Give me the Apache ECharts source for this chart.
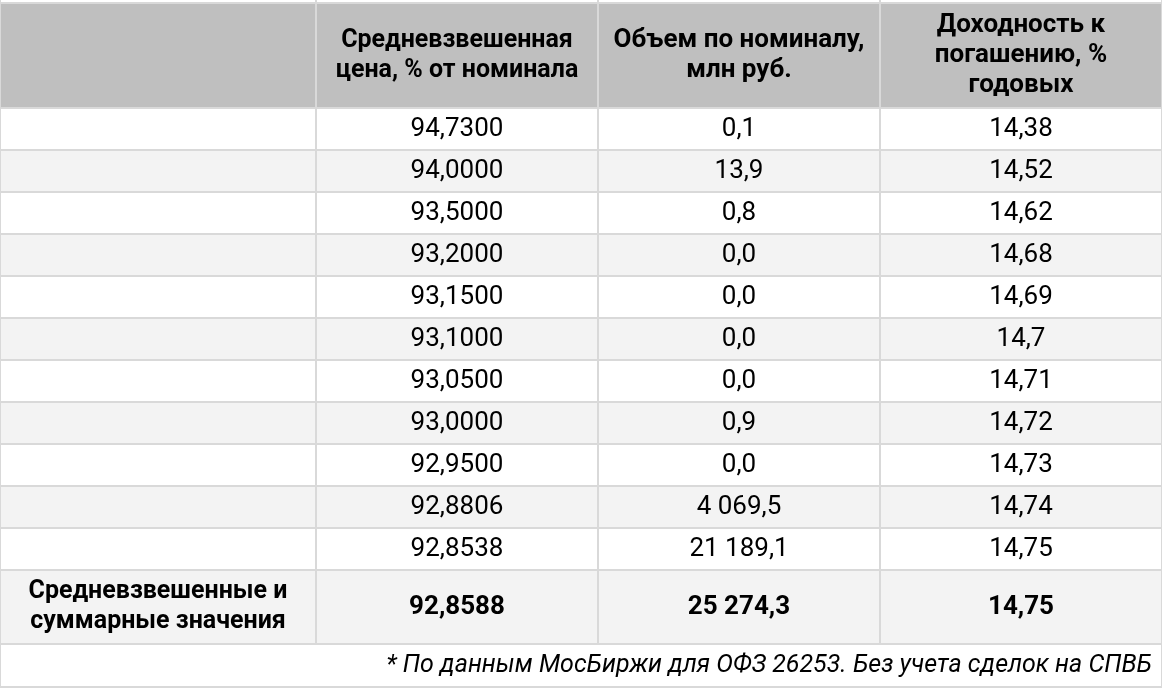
<!DOCTYPE html>
<html lang="ru">
<head>
<meta charset="UTF-8">
<title>ОФЗ 26253</title>
<style>html,body{margin:0;padding:0;background:#fff}</style>
</head>
<body>
<div id="main" style="width:1162px;height:688px;"></div>
<script src="https://cdn.jsdelivr.net/npm/echarts@6/dist/echarts.min.js"></script>
<script>
const headers = ['', 'Средневзвешенная\nцена, % от номинала', 'Объем по номиналу,\nмлн руб.', 'Доходность к\nпогашению, %\nгодовых']
const prices = ['94,7300', '94,0000', '93,5000', '93,2000', '93,1500', '93,1000', '93,0500', '93,0000', '92,9500', '92,8806', '92,8538']
const volumes = ['0,1', '13,9', '0,8', '0,0', '0,0', '0,0', '0,0', '0,9', '0,0', '4 069,5', '21 189,1']
const yields = ['14,38', '14,52', '14,62', '14,68', '14,69', '14,7', '14,71', '14,72', '14,73', '14,74', '14,75']
const totals = ['Средневзвешенные и\nсуммарные значения', '92,8588', '25 274,3', '14,75']
const note = '* По данным МосБиржи для ОФЗ 26253. Без учета сделок на СПВБ'

const chart = echarts.init(document.getElementById('main'))
const colX = [0, 316, 598, 880, 1162]
const font = 'Roboto, sans-serif'
const els = []

function cell(x0, x1, y0, y1, fill, text, bold, size) {
  els.push({ type: 'rect', shape: { x: x0, y: y0, width: x1 - x0, height: y1 - y0 },
    style: { fill: fill, stroke: '#d9d9d9', lineWidth: 2 } })
  if (text) els.push({ type: 'text', x: (x0 + x1) / 2, y: (y0 + y1) / 2,
    style: { text: text, fill: '#000', font: (bold ? 'bold ' : '') + (size || 26) + 'px ' + font,
      align: 'center', verticalAlign: 'middle', lineHeight: 30 } })
}

for (let c = 0; c < 4; c++) cell(colX[c], colX[c + 1], -10, 3, '#fff')
for (let c = 0; c < 4; c++) cell(colX[c], colX[c + 1], 3, 108, '#bfbfbf', headers[c], true, c === 1 ? 25 : 26)
prices.forEach((p, i) => {
  const y0 = 108 + i * 42, fill = i % 2 ? '#f3f3f3' : '#fff'
  const row = ['', p, volumes[i], yields[i]]
  for (let c = 0; c < 4; c++) cell(colX[c], colX[c + 1], y0, y0 + 42, fill, row[c], false)
})
for (let c = 0; c < 4; c++) cell(colX[c], colX[c + 1], 570, 644, '#f3f3f3', totals[c], true, c === 0 ? 25 : 26)
cell(0, 1162, 644, 687, '#fff')
els.push({ type: 'text', x: 1152, y: 666, style: { text: note, fill: '#000',
  font: 'italic 25px ' + font, align: 'right', verticalAlign: 'middle' } })

chart.setOption({ animation: false, graphic: { elements: els } })
</script>
</body>
</html>
